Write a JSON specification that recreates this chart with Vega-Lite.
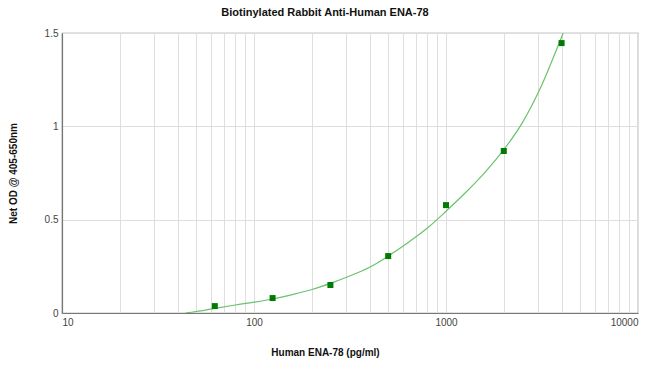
{
  "$schema": "https://vega.github.io/schema/vega-lite/v6.json",
  "width": 576,
  "height": 280,
  "autosize": "none",
  "padding": {"left": 62, "top": 33, "right": 12, "bottom": 57},
  "background": "white",
  "config": {
    "view": {"stroke": "#8a8a8a", "strokeWidth": 1.2},
    "font": "Liberation Sans"
  },
  "title": {
    "text": "Biotinylated Rabbit Anti-Human ENA-78",
    "fontSize": 11,
    "fontWeight": "bold",
    "font": "Liberation Sans",
    "color": "#111",
    "offset": 10,
    "dx": -25
  },
  "datasets": {
    "curve": [
      {"conc": 44, "od": 0},
      {"conc": 50, "od": 0.008},
      {"conc": 62.5, "od": 0.025},
      {"conc": 80, "od": 0.043},
      {"conc": 100, "od": 0.058},
      {"conc": 125, "od": 0.075},
      {"conc": 160, "od": 0.1},
      {"conc": 200, "od": 0.126},
      {"conc": 250, "od": 0.159},
      {"conc": 315, "od": 0.198},
      {"conc": 400, "od": 0.245},
      {"conc": 500, "od": 0.305},
      {"conc": 630, "od": 0.375},
      {"conc": 800, "od": 0.455},
      {"conc": 1000, "od": 0.545},
      {"conc": 1250, "od": 0.64},
      {"conc": 1600, "od": 0.755},
      {"conc": 2000, "od": 0.875},
      {"conc": 2500, "od": 1.02},
      {"conc": 3150, "od": 1.22},
      {"conc": 3900, "od": 1.45},
      {"conc": 4080, "od": 1.5}
    ],
    "points": [
      {"conc": 62.5, "od": 0.037},
      {"conc": 125, "od": 0.08},
      {"conc": 250, "od": 0.15},
      {"conc": 500, "od": 0.305},
      {"conc": 1000, "od": 0.578},
      {"conc": 2000, "od": 0.868},
      {"conc": 4000, "od": 1.446}
    ]
  },
  "encoding": {
    "x": {
      "field": "conc",
      "type": "quantitative",
      "scale": {"type": "log", "domain": [10, 10000], "nice": false},
      "axis": {
        "title": "Human ENA-78 (pg/ml)",
        "titleFontSize": 10,
        "titleFontWeight": "bold",
        "titleColor": "#111",
        "titleX": 263,
        "titleY": 39,
        "titleAlign": "center",
        "titleBaseline": "middle",
        "values": [10, 20, 30, 40, 50, 60, 70, 80, 90, 100, 200, 300, 400, 500, 600, 700, 800, 900, 1000, 2000, 3000, 4000, 5000, 6000, 7000, 8000, 9000, 10000],
        "format": "d",
        "labelExpr": "(datum.value == 10 || datum.value == 100 || datum.value == 1000 || datum.value == 10000) ? datum.label : ''",
        "labelOverlap": false,
        "labelFlush": true,
        "labelFontSize": 10,
        "labelColor": "#444",
        "labelPadding": 4,
        "ticks": false,
        "grid": true,
        "gridColor": "#dedede",
        "gridWidth": 1,
        "domainColor": "#777",
        "domainWidth": 1.2
      }
    },
    "y": {
      "field": "od",
      "type": "quantitative",
      "scale": {"domain": [0, 1.5], "nice": false},
      "axis": {
        "title": "Net OD @ 405-650nm",
        "titleFontSize": 10,
        "titleFontWeight": "bold",
        "titleColor": "#111",
        "titleX": -49,
        "titleY": 140,
        "titleAlign": "center",
        "titleBaseline": "middle",
        "titleAngle": -90,
        "values": [0, 0.5, 1, 1.5],
        "format": "~g",
        "labelFontSize": 10,
        "labelColor": "#444",
        "labelPadding": 4,
        "labelFlush": false,
        "ticks": false,
        "grid": true,
        "gridColor": "#dedede",
        "gridWidth": 1,
        "domainColor": "#777",
        "domainWidth": 1.2
      }
    }
  },
  "layer": [
    {
      "data": {"name": "curve"},
      "mark": {"type": "line", "color": "#6cc26c", "strokeWidth": 1.2, "interpolate": "monotone", "clip": true}
    },
    {
      "data": {"name": "points"},
      "mark": {"type": "square", "color": "#007a00", "opacity": 1, "filled": true, "size": 36}
    }
  ]
}
